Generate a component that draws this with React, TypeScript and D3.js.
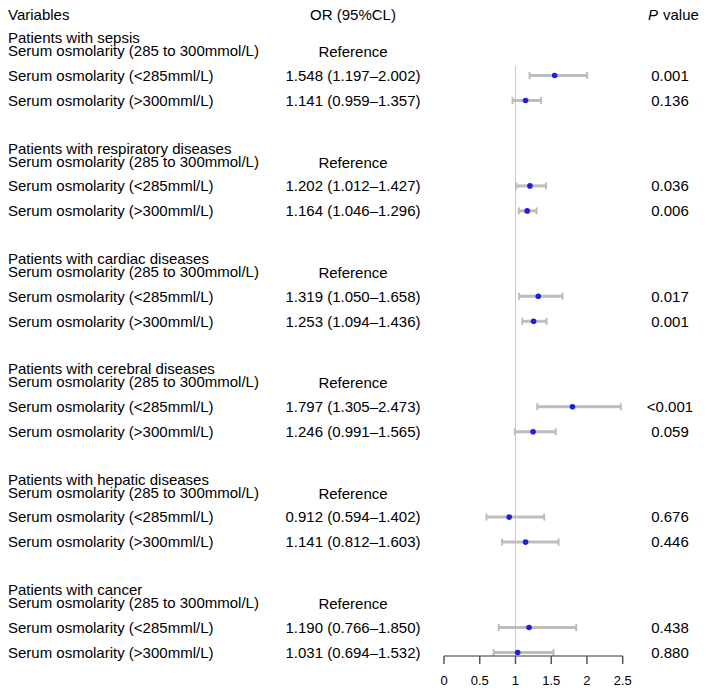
import React from "react";
import * as d3 from "d3";

const groups = [
  "Patients with sepsis",
  "Patients with respiratory diseases",
  "Patients with cardiac diseases",
  "Patients with cerebral diseases",
  "Patients with hepatic diseases",
  "Patients with cancer",
];
const refLabel = "Serum osmolarity (285 to 300mmol/L)";
const rowLabels = ["Serum osmolarity (<285mml/L)", "Serum osmolarity (>300mml/L)"];
const orValues = [
  [1.548, 1.141],
  [1.202, 1.164],
  [1.319, 1.253],
  [1.797, 1.246],
  [0.912, 1.141],
  [1.19, 1.031],
];
const lowValues = [
  [1.197, 0.959],
  [1.012, 1.046],
  [1.05, 1.094],
  [1.305, 0.991],
  [0.594, 0.812],
  [0.766, 0.694],
];
const highValues = [
  [2.002, 1.357],
  [1.427, 1.296],
  [1.658, 1.436],
  [2.473, 1.565],
  [1.402, 1.603],
  [1.85, 1.532],
];
const pValues = [
  ["0.001", "0.136"],
  ["0.036", "0.006"],
  ["0.017", "0.001"],
  ["<0.001", "0.059"],
  ["0.676", "0.446"],
  ["0.438", "0.880"],
];
const xTicks = [0, 0.5, 1, 1.5, 2, 2.5];

const fmt = d3.format(".3f");

export default function App() {
  const W = 708;
  const H = 694;
  const x = d3.scaleLinear().domain([0, 2.5]).range([444, 622.7]);
  const groupY = d3.scaleLinear().domain([0, 5]).range([38, 590]);
  const axisY = 656;
  const font = "'Liberation Sans', Arial, Helvetica, sans-serif";
  const fs = 15;
  const orX = 353;
  const pX = 670;

  return (
    <svg
      width={W}
      height={H}
      style={{ position: "absolute", left: 0, top: 0, background: "#fff" }}
      fontFamily={font}
      fontSize={fs}
    >
      <rect width={W} height={H} fill="#fff" />
      {/* headers */}
      <text x={8} y={15} dy="0.35em" fill="#000">Variables</text>
      <text x={orX} y={15} dy="0.35em" textAnchor="middle" fill="#000">OR (95%CL)</text>
      <text x={648} y={15} dy="0.35em" fill="#000">
        <tspan fontStyle="italic">P</tspan>
        <tspan dx={5}>value</tspan>
      </text>

      {/* reference line at 1 */}
      <line x1={x(1)} x2={x(1)} y1={66} y2={axisY} stroke="#c8c8c8" strokeWidth={1} />

      {groups.map((g, gi) => {
        const y0 = groupY(gi);
        return (
          <g key={g}>
            <text x={8} y={y0} dy="0.35em" fill="#000">{g}</text>
            <text x={8} y={y0 + 13} dy="0.35em" fill="#000">{refLabel}</text>
            <text x={orX} y={y0 + 14} dy="0.35em" textAnchor="middle" fill="#000">Reference</text>
            {rowLabels.map((rl, ri) => {
              const y = y0 + 37.5 + ri * 25;
              const lo = lowValues[gi][ri];
              const hi = highValues[gi][ri];
              const or = orValues[gi][ri];
              return (
                <g key={rl}>
                  <text x={8} y={y} dy="0.35em" fill="#000">{rl}</text>
                  <text x={orX} y={y} dy="0.35em" textAnchor="middle" fill="#000">
                    {`${fmt(or)} (${fmt(lo)}–${fmt(hi)})`}
                  </text>
                  <text x={pX} y={y} dy="0.35em" textAnchor="middle" fill="#000">{pValues[gi][ri]}</text>
                  <line x1={x(lo)} x2={x(hi)} y1={y} y2={y} stroke="#bdbdbd" strokeWidth={3} />
                  <line x1={x(lo)} x2={x(lo)} y1={y - 3.5} y2={y + 3.5} stroke="#bdbdbd" strokeWidth={2} />
                  <line x1={x(hi)} x2={x(hi)} y1={y - 3.5} y2={y + 3.5} stroke="#bdbdbd" strokeWidth={2} />
                  <circle cx={x(or)} cy={y} r={2.8} fill="#1f1fe0" />
                </g>
              );
            })}
          </g>
        );
      })}

      {/* axis */}
      <line x1={x(0)} x2={x(2.5)} y1={axisY} y2={axisY} stroke="#333" strokeWidth={1.2} />
      {xTicks.map((t) => (
        <g key={t}>
          <line x1={x(t)} x2={x(t)} y1={axisY} y2={axisY + 8} stroke="#555" strokeWidth={1.5} />
          <text x={x(t)} y={680} dy="0.35em" textAnchor="middle" fontSize={13} fill="#000">{t}</text>
        </g>
      ))}
    </svg>
  );
}
